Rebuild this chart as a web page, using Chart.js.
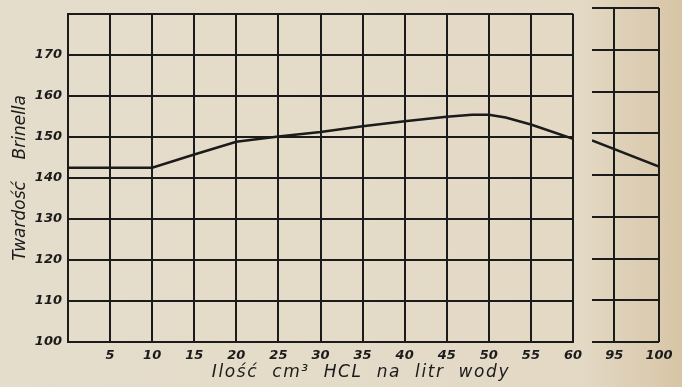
<!DOCTYPE html>
<html>
<head>
<meta charset="utf-8">
<script src="https://cdn.jsdelivr.net/npm/chart.js@4"></script>
<style>
  html, body { margin: 0; padding: 0; }
  body {
    width: 682px; height: 387px; overflow: hidden; position: relative;
    background: linear-gradient(to right, #e5ddcc 0%, #e3d9c5 85%, #d8c5a6 100%);
  }
  .box { position: absolute; top: 0; }
  #xTitle {
    position: absolute; left: 0; width: 722px; top: 361px;
    text-align: center; font: italic 17px "DejaVu Sans", sans-serif;
    letter-spacing: 1.6px; word-spacing: 7px; color: #1b1b1b;
  }
</style>
</head>
<body>
<div class="box" style="left:0; width:600px; height:387px;"><canvas id="mainChart" width="600" height="387"></canvas></div>
<div class="box" style="left:582px; width:100px; height:387px;"><canvas id="tailChart" width="100" height="387"></canvas></div>
<div id="xTitle">Ilość cm³ HCL na litr wody</div>
<script>
// cm3 HCL per litre of water vs Brinell hardness
var hclMain = [0, 10, 15, 20, 25, 30, 35, 40, 45, 48, 50, 52, 55, 60];
var hardnessMain = [142.5, 142.5, 145.7, 148.8, 150.1, 151.2, 152.6, 153.8, 154.9, 155.4, 155.4, 154.7, 153.0, 149.5];
var hclTail = [92.5, 100];
var hardnessTail = [148.3, 142];
var yTicks = [100, 110, 120, 130, 140, 150, 160, 170, 180];

var ink = '#1b1b1b';
var tickFont = { family: 'DejaVu Sans', size: 13, style: 'italic', weight: '600' };

function toPoints(xs, ys) {
    var pts = [];
    for (var i = 0; i < xs.length; i++) {
        pts.push({ x: xs[i], y: ys[i] });
    }
    return pts;
}

function yScale(showLabels) {
    return {
        type: 'linear', min: 100, max: 180,
        afterBuildTicks: function (s) { s.ticks = yTicks.map(function (v) { return { value: v }; }); },
        afterFit: function (s) { s.width = showLabels ? 58 : 10; },
        grid: { color: ink, lineWidth: 2, drawTicks: false },
        border: { display: showLabels, color: ink, width: 2 },
        ticks: {
            display: showLabels, color: ink, font: tickFont, padding: 6,
            callback: function (v) { return v == 180 ? '' : v; }
        },
        title: {
            display: showLabels, text: 'Twardość    Brinella', color: ink,
            font: { family: 'DejaVu Sans', size: 17, style: 'italic' }, padding: { top: 0, bottom: 0 }
        }
    };
}

var mainChart = new Chart(document.getElementById('mainChart').getContext('2d'), {
    type: 'line',
    data: {
        datasets: [{
            data: toPoints(hclMain, hardnessMain),
            borderColor: ink, borderWidth: 2.5, pointRadius: 0, tension: 0, fill: false
        }]
    },
    options: {
        responsive: false, animation: false,
        layout: { padding: { left: 10, top: 10, right: 27, bottom: 0 } },
        plugins: { legend: { display: false }, tooltip: { enabled: false } },
        scales: {
            x: {
                type: 'linear', min: 0, max: 60,
                afterFit: function (s) { s.height = 45; },
                ticks: { stepSize: 5, color: ink, font: tickFont, padding: 6,
                    callback: function (v) { return v == 0 ? '' : v; } },
                grid: { color: ink, lineWidth: 2, drawTicks: false },
                border: { color: ink, width: 2 }
            },
            y: yScale(true)
        }
    }
});

var tailChart = new Chart(document.getElementById('tailChart').getContext('2d'), {
    type: 'line',
    data: {
        datasets: [{
            data: toPoints(hclTail, hardnessTail),
            borderColor: ink, borderWidth: 2.5, pointRadius: 0, fill: false
        }]
    },
    options: {
        responsive: false, animation: false,
        layout: { padding: { left: 0, top: 8, right: 23, bottom: 0 } },
        plugins: { legend: { display: false }, tooltip: { enabled: false } },
        scales: {
            x: {
                type: 'linear', min: 92.5, max: 100,
                afterBuildTicks: function (s) { s.ticks = [{ value: 95 }, { value: 100 }]; },
                afterFit: function (s) { s.height = 45; },
                ticks: { color: ink, font: tickFont, padding: 6 },
                grid: { color: ink, lineWidth: 2, drawTicks: false },
                border: { display: false }
            },
            y: yScale(false)
        }
    }
});
</script>
</body>
</html>
